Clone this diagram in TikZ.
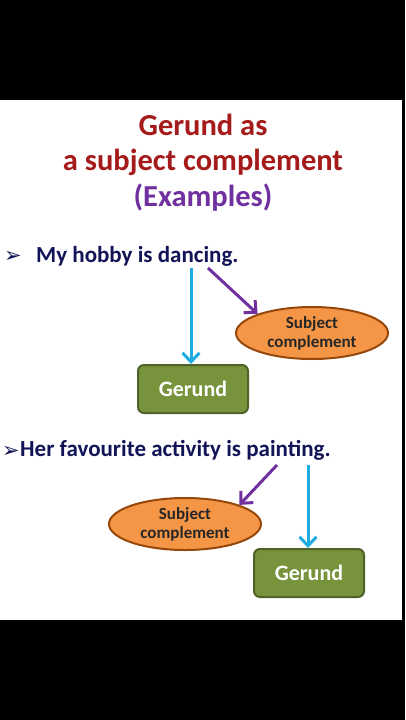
\documentclass[tikz,border=0pt]{standalone}
\usepackage{fontspec}
\setmainfont{Carlito}
\newfontfamily\symfont{DejaVu Sans}
\usetikzlibrary{arrows.meta,shapes.geometric}

\definecolor{titlered}{RGB}{165,27,27}
\definecolor{expurple}{RGB}{112,48,160}
\definecolor{navytext}{RGB}{18,20,88}
\definecolor{arrowblue}{RGB}{30,172,226}
\definecolor{ovalfill}{RGB}{245,150,70}
\definecolor{ovaledge}{RGB}{150,72,10}
\definecolor{boxfill}{RGB}{119,147,60}
\definecolor{boxedge}{RGB}{79,98,40}

\begin{document}
\begin{tikzpicture}[x=1pt,y=-1pt,
    heading/.style={font=\bfseries\fontsize{30.5}{30.5}\selectfont, inner sep=0pt},
    sentence/.style={font=\bfseries\fontsize{23}{23}\selectfont, text=navytext, anchor=base west, inner sep=0pt},
    bullet/.style={font=\symfont\fontsize{21}{21}\selectfont, text=navytext, anchor=base west, inner sep=0pt},
    gerundbox/.style={draw=boxedge, fill=boxfill, line width=2pt, rounded corners=6pt,
      minimum width=110pt, minimum height=48pt, inner sep=0pt, text=white,
      font=\bfseries\fontsize{22}{22}\selectfont},
    complement/.style={ellipse, draw=ovaledge, fill=ovalfill, line width=2pt,
      minimum width=152pt, minimum height=52pt, inner sep=0pt, align=center,
      font=\bfseries\fontsize{17}{19}\selectfont, text=black!85},
    toverb/.style={draw=arrowblue, line width=3pt, -{Straight Barb[length=9pt,width=17pt]}},
    tocomp/.style={draw=expurple, line width=3pt, -{Straight Barb[length=9pt,width=17pt]}}]
  % black frame and white slide
  \fill[black] (0,0) rectangle (405,720);
  \fill[white] (0,100) rectangle (402,620);
  \useasboundingbox (0,0) rectangle (405,720);

  % title lines
  \node[heading, text=titlered] (tline1) at (203,125) {Gerund as};
  \node[heading, text=titlered] (tline2) at (203,162) {a subject complement};
  \node[heading, text=expurple] (tline3) at (203,198) {(Examples)};

  % first example
  \node[bullet]   (bulA) at (4,262) {➢};
  \node[sentence] (sentA) at (36,262) {My hobby is dancing.};
  \node[gerundbox]  (gerA)  at (193,389) {Gerund};
  \node[complement] (subjA) at (312,333) {Subject\\complement};
  \coordinate (dA) at (191,268);
  \coordinate (cA) at (208,268);
  \draw[toverb] (dA) -- (dA |- gerA.north);
  \draw[tocomp] (cA) -- (subjA.north west);

  % second example
  \node[bullet]   (bulB) at (2,457) {➢};
  \node[sentence] (sentB) at (20,456) {Her favourite activity is painting.};
  \node[complement] (subjB) at (185,524) {Subject\\complement};
  \node[gerundbox]  (gerB)  at (309,573) {Gerund};
  \coordinate (cB) at (277,465);
  \coordinate (dB) at (308,465);
  \draw[tocomp] (cB) -- (subjB.north east);
  \draw[toverb] (dB) -- (dB |- gerB.north);
\end{tikzpicture}
\end{document}
